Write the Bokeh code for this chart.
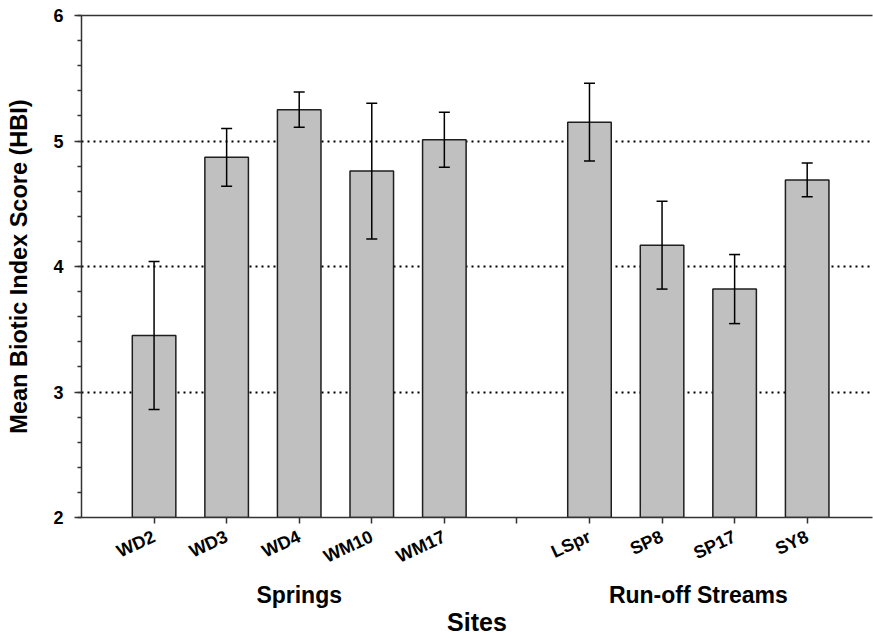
import math
from bokeh.plotting import figure
from bokeh.models import (ColumnDataSource, Range1d, LinearAxis, FixedTicker,
                          SingleIntervalTicker, Whisker, TeeHead)
from bokeh.embed import file_html
from bokeh.resources import INLINE

# ---- data ----
springs = ["WD2", "WD3", "WD4", "WM10", "WM17"]
streams = ["LSpr", "SP8", "SP17", "SY8"]
group_names = ["Springs", "Run-off Streams"]
spring_means = [3.45, 4.87, 5.25, 4.76, 5.01]
spring_errs = [0.59, 0.23, 0.14, 0.54, 0.22]
stream_means = [5.15, 4.17, 3.82, 4.69]
stream_errs = [0.31, 0.35, 0.275, 0.135]
y_ticks = [2, 3, 4, 5, 6]
grid_values = [3, 4, 5]

FONT = "Liberation Sans"
AXIS_COL = "#333333"

# slot positions: springs, one empty slot, streams
sites = springs + streams
means = spring_means + stream_means
errs = spring_errs + stream_errs
pos = list(range(len(springs))) + [len(springs) + 1 + i for i in range(len(streams))]
n_slots = len(springs) + 1 + len(streams)

src = ColumnDataSource(dict(
    x=pos, top=means,
    upper=[m + e for m, e in zip(means, errs)],
    lower=[m - e for m, e in zip(means, errs)],
))

p = figure(width=873, height=638, output_backend="svg", toolbar_location=None,
           x_range=Range1d(-1, n_slots - 0.1), y_range=Range1d(y_ticks[0], y_ticks[-1]),
           min_border_left=81, min_border_right=1, min_border_top=15, min_border_bottom=121)
p.outline_line_color = None
p.background_fill_color = "white"
p.border_fill_color = "white"

p.vbar(x="x", top="top", bottom=y_ticks[0], width=0.6, source=src,
       fill_color="#c0c0c0", line_color="#1e1e1e", line_width=1.5)

w = Whisker(source=src, base="x", upper="upper", lower="lower", level="overlay",
            line_color="black", line_width=1.5,
            upper_head=TeeHead(size=11, line_width=1.5, line_color="black"),
            lower_head=TeeHead(size=11, line_width=1.5, line_color="black"))
p.add_layout(w)

# grid
p.xgrid.visible = False
p.ygrid.ticker = FixedTicker(ticks=grid_values)
p.ygrid.grid_line_color = "black"
p.ygrid.grid_line_dash = "2 4"
p.ygrid.grid_line_width = 2

# y axis
ya = p.yaxis[0]
ya.ticker = SingleIntervalTicker(interval=1, num_minor_ticks=5)
ya.axis_label = "Mean Biotic Index Score (HBI)"
ya.axis_label_text_font = FONT
ya.axis_label_text_font_style = "bold"
ya.axis_label_text_font_size = "23.5px"
ya.axis_label_text_color = "black"
ya.axis_label_standoff = 18
ya.major_label_text_font = FONT
ya.major_label_text_font_style = "bold"
ya.major_label_text_font_size = "18px"
ya.major_label_text_color = "black"
ya.major_label_standoff = 11
ya.major_tick_out = 7
ya.major_tick_in = 0
ya.minor_tick_out = 4
ya.minor_tick_in = 0
ya.axis_line_color = AXIS_COL
ya.axis_line_width = 1.5
ya.major_tick_line_color = AXIS_COL
ya.major_tick_line_width = 1.5
ya.minor_tick_line_color = AXIS_COL
ya.minor_tick_line_width = 1.5

# x axis (site names)
xa = p.xaxis[0]
xa.ticker = FixedTicker(ticks=list(range(n_slots)))
overrides = {i: "" for i in range(n_slots)}
for s, x in zip(sites, pos):
    overrides[x] = s
xa.major_label_overrides = overrides
xa.major_label_orientation = math.radians(25)
xa.major_label_text_font = FONT
xa.major_label_text_font_style = "bold"
xa.major_label_text_font_size = "18px"
xa.major_label_text_color = "black"
xa.major_label_standoff = 12
xa.major_tick_out = 6
xa.major_tick_in = 0
xa.minor_tick_line_color = None
xa.axis_line_color = AXIS_COL
xa.axis_line_width = 1.5
xa.major_tick_line_color = AXIS_COL
xa.major_tick_line_width = 1.5

# second x axis: group names + "Sites"
group_pos = [pos[:len(springs)], pos[len(springs):]]
centers = [sum(g) / len(g) for g in group_pos]
gx = LinearAxis(ticker=FixedTicker(ticks=centers),
                major_label_overrides={c: n for c, n in zip(centers, group_names)},
                axis_line_color=None, major_tick_line_color=None,
                minor_tick_line_color=None, major_tick_out=0, major_tick_in=0,
                major_label_standoff=3,
                major_label_text_font=FONT, major_label_text_font_style="bold",
                major_label_text_font_size="23px", major_label_text_color="black",
                axis_label="Sites", axis_label_standoff=-3,
                axis_label_text_font=FONT, axis_label_text_font_style="bold",
                axis_label_text_font_size="25px", axis_label_text_color="black")
p.add_layout(gx, "below")

# top border line
top = LinearAxis(ticker=FixedTicker(ticks=[]), major_tick_out=0, major_tick_in=0,
                 minor_tick_out=0, minor_tick_in=0, major_label_standoff=0,
                 axis_line_color=AXIS_COL, axis_line_width=1.5)
p.add_layout(top, "above")

open("out.html", "w").write(file_html(p, INLINE))
